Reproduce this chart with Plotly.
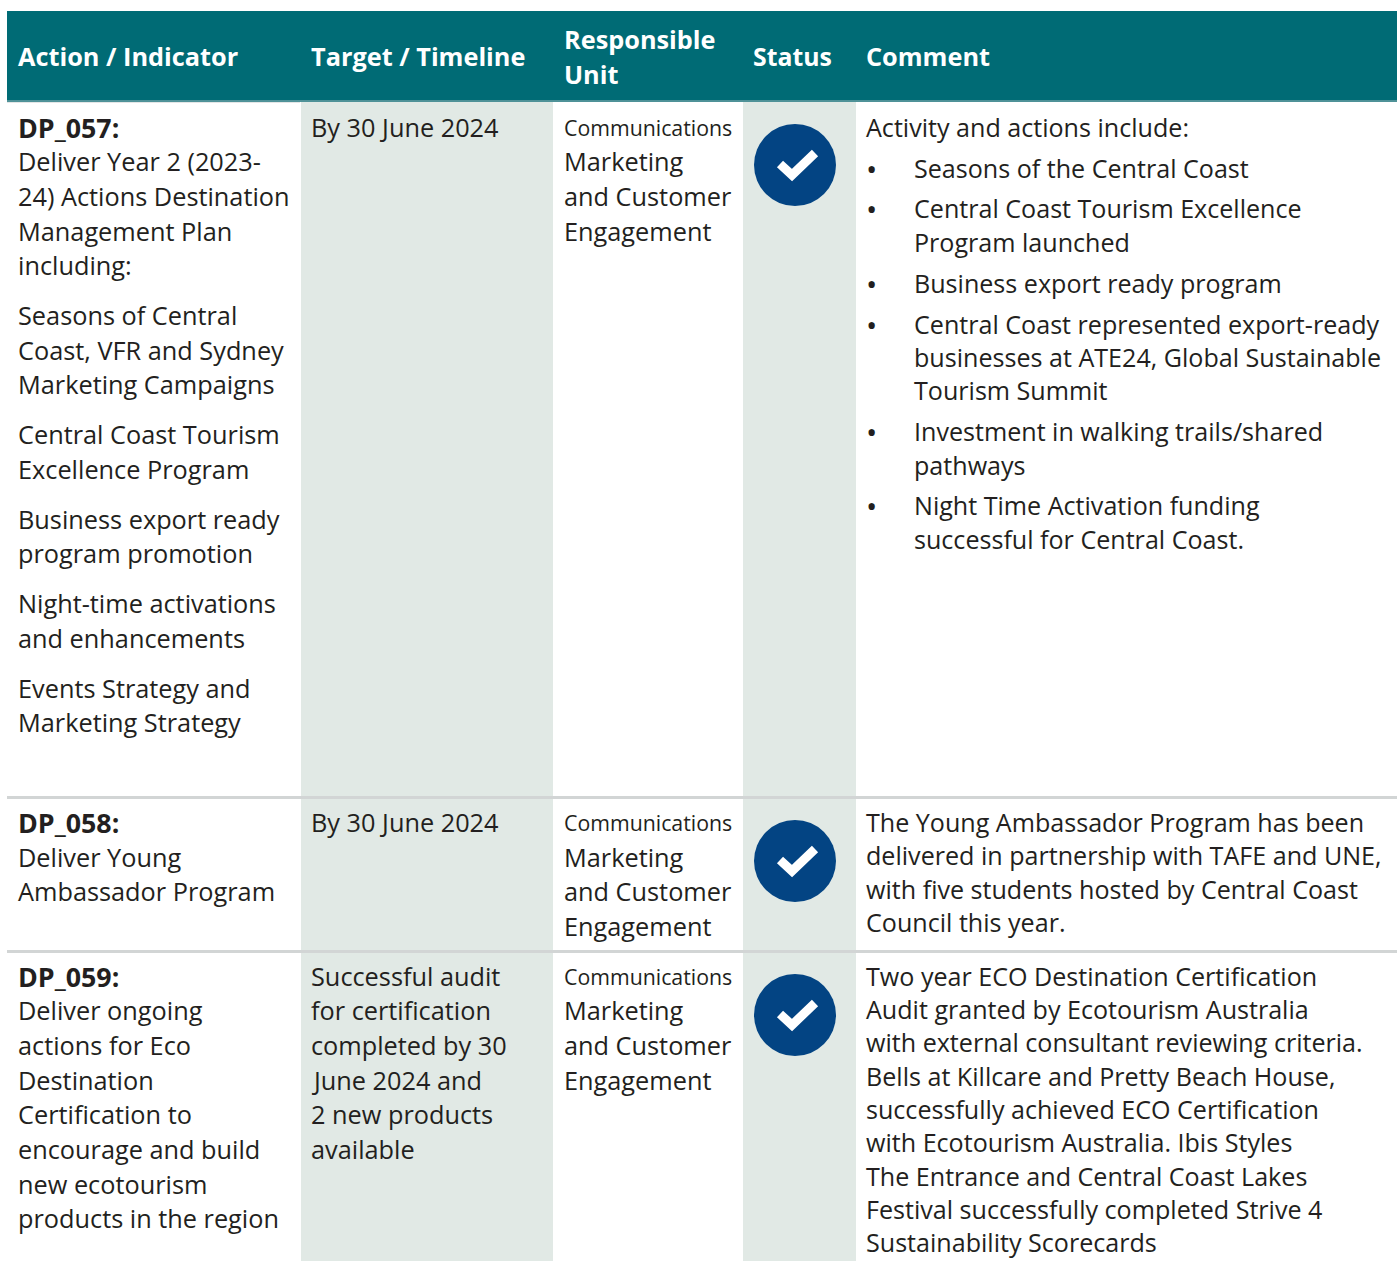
import plotly.graph_objects as go

# ---------- data ----------
headers = ["Action / Indicator", "Target / Timeline", "Responsible", "Unit", "Status", "Comment"]

action_ids = ["DP_057:", "DP_058:", "DP_059:"]
action_1 = ["Deliver Year 2 (2023-", "24) Actions Destination", "Management Plan", "including:",
            "Seasons of Central", "Coast, VFR and Sydney", "Marketing Campaigns",
            "Central Coast Tourism", "Excellence Program",
            "Business export ready", "program promotion",
            "Night-time activations", "and enhancements",
            "Events Strategy and", "Marketing Strategy"]
action_2 = ["Deliver Young", "Ambassador Program"]
action_3 = ["Deliver ongoing", "actions for Eco", "Destination", "Certification to",
            "encourage and build", "new ecotourism", "products in the region"]

target_1 = ["By 30 June 2024"]
target_2 = ["By 30 June 2024"]
target_3 = ["Successful audit", "for certification", "completed by 30", "June 2024 and",
            "2 new products", "available"]

unit_lines = ["Communications", "Marketing", "and Customer", "Engagement"]

comment_1_intro = ["Activity and actions include:"]
comment_1_items = ["Seasons of the Central Coast", "Central Coast Tourism Excellence", "Program launched",
                   "Business export ready program", "Central Coast represented export-ready",
                   "businesses at ATE24, Global Sustainable", "Tourism Summit",
                   "Investment in walking trails/shared", "pathways",
                   "Night Time Activation funding", "successful for Central Coast."]
comment_2 = ["The Young Ambassador Program has been", "delivered in partnership with TAFE and UNE,",
             "with five students hosted by Central Coast", "Council this year."]
comment_3 = ["Two year ECO Destination Certification", "Audit granted by Ecotourism Australia",
             "with external consultant reviewing criteria.", "Bells at Killcare and Pretty Beach House,",
             "successfully achieved ECO Certification", "with Ecotourism Australia. Ibis Styles",
             "The Entrance and Central Coast Lakes", "Festival successfully completed Strive 4",
             "Sustainability Scorecards"]

# ---------- layout ----------
W, H = 1397, 1261
FONT = "Open Sans"
SIZE_ACT = 25.3
SIZE_TGT = 25.3
SIZE_UNIT = 25.3
SIZE_COM = 25.1
SIZE_HEAD = 25.3
SIZE_ID = 26.8
SIZE_COMMS = 21.3
INK = "#231f20"
TEAL = "#006b75"
BAND = "#e1e9e5"
BLUE = "#034483"
DY = -1

X_ACT, X_TGT, X_UNIT, X_STAT, X_COM, X_ITEM = 18, 311, 564, 753, 866, 914
Y_ACT_1 = [162, 197, 232, 266, 316, 351, 385, 435, 470, 520, 554, 604, 639, 689, 723]
Y_ACT_2 = [858, 892]
Y_ACT_3 = [1011, 1046, 1081, 1115, 1150, 1185, 1219]
Y_IDS = [128, 823, 977]
Y_TGT_3 = [977, 1011, 1046, 1081, 1115, 1150]
Y_UNIT = [[128, 162, 197, 232], [823, 858, 892, 927], [977, 1011, 1046, 1081]]
Y_ITEMS = [169, 209, 243, 284, 325, 358, 391, 432, 466, 506, 540]
Y_BULLETS = [169, 209, 284, 325, 432, 506]
Y_COM_2 = [823, 856, 890, 923]
Y_COM_3 = [977, 1010, 1043, 1077, 1110, 1143, 1177, 1210, 1243]
Y_STATUS = [165, 861, 1015]

annotations = []


def put(x, y, text, size, bold=False, color=INK):
    annotations.append(dict(
        x=x, y=y + DY, xref="x", yref="y", text=f"<b>{text}</b>" if bold else text,
        showarrow=False, xanchor="left", yanchor="middle", align="left",
        font=dict(family=FONT, size=size, color=color), borderpad=0, borderwidth=0,
    ))


def rect(x0, y0, x1, y1, color):
    return dict(type="rect", xref="x", yref="y", x0=x0, y0=y0, x1=x1, y1=y1,
                fillcolor=color, line=dict(width=0), layer="below")


shapes = [
    rect(301, 102, 553, H, BAND),
    rect(743, 102, 856, H, BAND),
    rect(7, 796, W, 799, "#d2d5d5"),
    rect(7, 950, W, 953, "#d2d5d5"),
    rect(7, 101, 300, 103, "#e4e6e6"),
    rect(7, 11, W, 100, TEAL),
    rect(7, 100, W, 102, "#4f9298"),
]

for x, y, t in zip([X_ACT, X_TGT, X_UNIT, X_UNIT, X_STAT, X_COM], [57, 57, 40, 75, 57, 57], headers):
    put(x, y, t, 24.8 if t == "Status" else SIZE_HEAD, bold=True, color="#ffffff")

for y, t in zip(Y_IDS, action_ids):
    put(X_ACT, y, t, SIZE_ID, bold=True)
for ys, lines in [(Y_ACT_1, action_1), (Y_ACT_2, action_2), (Y_ACT_3, action_3)]:
    for y, t in zip(ys, lines):
        put(X_ACT, y, t, SIZE_ACT)

for ys, lines in [([128], target_1), ([823], target_2), (Y_TGT_3, target_3)]:
    for y, t in zip(ys, lines):
        put(X_TGT, y, t, SIZE_TGT)

for ys in Y_UNIT:
    for i, (y, t) in enumerate(zip(ys, unit_lines)):
        put(X_UNIT, y, t, SIZE_COMMS if i == 0 else SIZE_UNIT)

put(X_COM, 128, comment_1_intro[0], SIZE_COM)
for y, t in zip(Y_ITEMS, comment_1_items):
    put(X_ITEM, y, t, SIZE_COM)
for y in Y_BULLETS:
    put(866, y, "•", 30)
for ys, lines in [(Y_COM_2, comment_2), (Y_COM_3, comment_3)]:
    for y, t in zip(ys, lines):
        put(X_COM, y, t, SIZE_COM)

fig = go.Figure()
fig.add_trace(go.Scatter(
    x=[795] * len(Y_STATUS), y=Y_STATUS, mode="markers", hoverinfo="skip",
    marker=dict(size=82, color=BLUE, line=dict(width=0)),
))
for yc in Y_STATUS:
    fig.add_trace(go.Scatter(
        x=[795 - 15, 795 - 3, 795 + 20], y=[yc - 1, yc + 10, yc - 12], mode="lines", hoverinfo="skip",
        line=dict(color="#ffffff", width=9),
    ))

fig.update_layout(
    width=W, height=H, margin=dict(l=0, r=0, t=0, b=0), showlegend=False,
    paper_bgcolor="#ffffff", plot_bgcolor="#ffffff",
    xaxis=dict(range=[0, W], visible=False, fixedrange=True),
    yaxis=dict(range=[H, 0], visible=False, fixedrange=True),
    shapes=shapes, annotations=annotations,
)
fig.write_html("out.html", post_script="document.body.style.margin='0';document.body.style.overflow='hidden';",
               config={"displayModeBar": False})
